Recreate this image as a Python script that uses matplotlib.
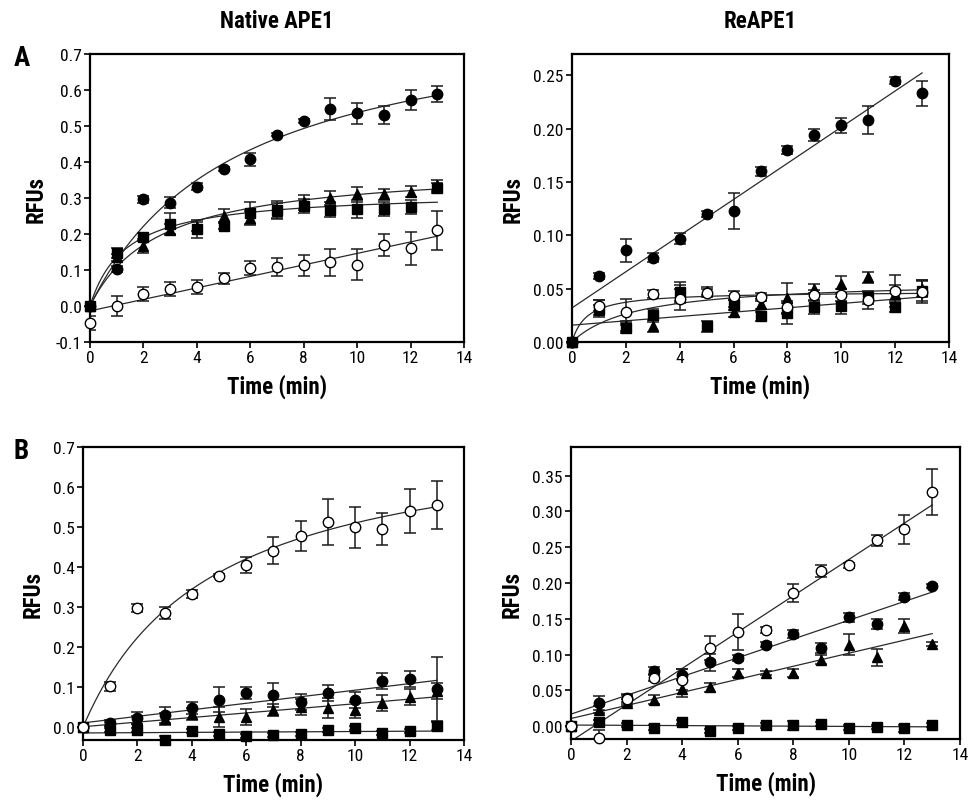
import numpy as np
import matplotlib
matplotlib.use('Agg')
import matplotlib.pyplot as plt
from matplotlib import font_manager
from matplotlib.ticker import FormatStrFormatter

# the figure uses a narrow Helvetica-like face; take one if it is installed
installed = {f.name for f in font_manager.fontManager.ttflist}
narrow = None
for cand in ['Liberation Sans Narrow', 'Nimbus Sans Narrow', 'Arial Narrow', 'Roboto Condensed']:
    if cand in installed:
        narrow = cand
        break
plt.rcParams['font.family'] = [narrow or 'Liberation Sans', 'DejaVu Sans']
tick_size = 12.5 if narrow else 11
label_size = 16.5 if narrow else 14

minutes = list(range(14))

# A - Native APE1
a_nat_fc = [0.0, 0.102, 0.296, 0.287, 0.331, 0.380, 0.407, 0.476, 0.514, 0.548, 0.535, 0.530, 0.573, 0.590]
a_nat_fc_err = [0.004, 0.008, 0.010, 0.015, 0.010, 0.005, 0.018, 0.005, 0.005, 0.030, 0.030, 0.025, 0.028, 0.022]
a_nat_tri = [0.0, 0.135, 0.166, 0.212, 0.220, 0.250, 0.245, 0.265, 0.288, 0.300, 0.310, 0.310, 0.318, 0.335]
a_nat_tri_err = [0.004, 0.010, 0.020, 0.015, 0.012, 0.020, 0.020, 0.020, 0.020, 0.020, 0.020, 0.015, 0.015, 0.015]
a_nat_sq = [0.0, 0.147, 0.192, 0.229, 0.215, 0.223, 0.259, 0.268, 0.277, 0.268, 0.270, 0.270, 0.275, 0.328]
a_nat_sq_err = [0.005, 0.015, 0.012, 0.030, 0.025, 0.010, 0.030, 0.025, 0.020, 0.020, 0.025, 0.020, 0.020, 0.015]
a_nat_oc = [-0.048, 0.0, 0.034, 0.047, 0.052, 0.077, 0.105, 0.108, 0.113, 0.121, 0.114, 0.170, 0.160, 0.210]
a_nat_oc_err = [0.020, 0.028, 0.020, 0.020, 0.020, 0.015, 0.020, 0.025, 0.030, 0.037, 0.043, 0.030, 0.045, 0.055]

# A - ReAPE1
a_re_fc = [0.0, 0.062, 0.086, 0.079, 0.097, 0.120, 0.1225, 0.160, 0.180, 0.194, 0.203, 0.208, 0.245, 0.233]
a_re_fc_err = [0.002, 0.003, 0.011, 0.004, 0.005, 0.003, 0.017, 0.004, 0.004, 0.006, 0.007, 0.013, 0.003, 0.012]
a_re_tri = [0.0, 0.030, 0.015, 0.015, 0.045, 0.048, 0.028, 0.0356, 0.041, 0.050, 0.054, 0.0606, 0.045, 0.050]
a_re_tri_err = [0.002, 0.005, 0.005, 0.006, 0.008, 0.004, 0.005, 0.005, 0.014, 0.004, 0.008, 0.005, 0.008, 0.008]
a_re_sq = [0.0, 0.031, 0.013, 0.025, 0.047, 0.0147, 0.0347, 0.024, 0.027, 0.0325, 0.034, 0.042, 0.033, 0.048]
a_re_sq_err = [0.002, 0.008, 0.005, 0.006, 0.009, 0.005, 0.005, 0.004, 0.010, 0.006, 0.008, 0.006, 0.005, 0.010]
a_re_oc = [0.0, 0.034, 0.028, 0.045, 0.040, 0.046, 0.0434, 0.042, 0.0325, 0.044, 0.044, 0.039, 0.048, 0.047]
a_re_oc_err = [0.002, 0.005, 0.012, 0.004, 0.010, 0.004, 0.004, 0.004, 0.006, 0.005, 0.006, 0.008, 0.015, 0.010]

# B - Native APE1
b_nat_oc = [0.0, 0.102, 0.297, 0.285, 0.332, 0.378, 0.405, 0.441, 0.478, 0.513, 0.499, 0.495, 0.540, 0.555]
b_nat_oc_err = [0.004, 0.012, 0.010, 0.015, 0.010, 0.004, 0.020, 0.033, 0.037, 0.058, 0.052, 0.040, 0.055, 0.060]
b_nat_fc = [0.0, 0.010, 0.023, 0.030, 0.047, 0.069, 0.086, 0.080, 0.064, 0.086, 0.069, 0.115, 0.120, 0.095]
b_nat_fc_err = [0.003, 0.008, 0.015, 0.020, 0.015, 0.032, 0.015, 0.030, 0.020, 0.020, 0.020, 0.020, 0.020, 0.080]
b_nat_tri = [0.0, 0.008, 0.018, 0.020, 0.0325, 0.026, 0.026, 0.043, 0.050, 0.048, 0.043, 0.060, 0.075, 0.090]
b_nat_tri_err = [0.003, 0.005, 0.010, 0.015, 0.015, 0.025, 0.020, 0.015, 0.020, 0.025, 0.020, 0.020, 0.020, 0.020]
b_nat_sq = [0.0, -0.0075, -0.008, -0.032, -0.010, -0.0175, -0.023, -0.020, -0.0175, -0.008, -0.003, -0.015, -0.010, 0.003]
b_nat_sq_err = [0.003, 0.005, 0.005, 0.010, 0.005, 0.005, 0.005, 0.005, 0.005, 0.005, 0.005, 0.005, 0.005, 0.010]

# B - ReAPE1
b_re_oc = [0.0, -0.017, 0.038, 0.067, 0.065, 0.109, 0.131, 0.134, 0.186, 0.217, 0.2245, 0.2595, 0.275, 0.327]
b_re_oc_err = [0.003, 0.012, 0.007, 0.004, 0.015, 0.017, 0.025, 0.004, 0.013, 0.008, 0.004, 0.008, 0.020, 0.032]
b_re_fc = [0.0, 0.032, 0.039, 0.0775, 0.072, 0.089, 0.095, 0.114, 0.129, 0.109, 0.152, 0.143, 0.181, 0.196]
b_re_fc_err = [0.002, 0.010, 0.005, 0.005, 0.008, 0.012, 0.004, 0.004, 0.006, 0.007, 0.006, 0.007, 0.005, 0.003]
b_re_tri = [0.0, 0.023, 0.033, 0.037, 0.052, 0.054, 0.074, 0.074, 0.074, 0.093, 0.114, 0.096, 0.140, 0.115]
b_re_tri_err = [0.002, 0.005, 0.005, 0.006, 0.012, 0.006, 0.006, 0.003, 0.006, 0.006, 0.015, 0.012, 0.010, 0.003]
b_re_sq = [0.0, 0.006, 0.002, -0.002, 0.006, -0.0066, -0.003, 0.001, 0.001, 0.003, -0.002, -0.001, -0.003, 0.002]
b_re_sq_err = [0.002, 0.003, 0.003, 0.003, 0.003, 0.003, 0.003, 0.003, 0.006, 0.003, 0.003, 0.003, 0.005, 0.003]

# hyperbolic fits (Vmax, Km); None -> straight line fit
fit_a_nat_fc = (0.834, 5.53)
fit_a_nat_tri = (0.39, 2.6)
fit_a_nat_sq = (0.318, 1.34)
fit_a_re_oc = (0.0475, 0.55)
fit_a_re_tri = (0.058, 2.4)
fit_b_nat_oc = (0.75, 4.7)

W, H = 970, 803
fig = plt.figure(figsize=(W / 100, H / 100), dpi=100)


def box(left, top, right, bottom):
    return fig.add_axes([left / W, 1 - bottom / H, (right - left) / W, (bottom - top) / H])


def draw_series(ax, y, err, marker, filled, fit=None):
    t = np.array(minutes, dtype=float)
    y = np.array(y)
    tt = np.linspace(0, 13, 300)
    if fit is None:
        k, b = np.polyfit(t, y, 1)
        curve = k * tt + b
    else:
        vmax, km = fit
        curve = vmax * tt / (km + tt)
    ax.plot(tt, curve, color='#2a2a2a', lw=0.9, zorder=2)
    ax.errorbar(t, y, yerr=err, fmt='none', ecolor='#1a1a1a', elinewidth=1.1,
                capsize=4.5, capthick=1.1, zorder=3)
    ms = 7 if marker == 's' else 7.5
    ax.plot(t, y, linestyle='none', marker=marker, ms=ms,
            mfc='black' if filled else 'white', mec='black', mew=1.0,
            zorder=4, clip_on=False)


def style(ax, ylim, ystep, fmt):
    ax.set_xlim(0, 14)
    ax.set_ylim(*ylim)
    ax.set_xticks(range(0, 15, 2))
    start = np.ceil(ylim[0] / ystep - 1e-6) * ystep
    ticks = np.round(np.arange(start, ylim[1] + 1e-9, ystep), 3) + 0.0
    ticks[np.abs(ticks) < 1e-9] = 0.0
    ax.set_yticks(ticks)
    ax.yaxis.set_major_formatter(FormatStrFormatter(fmt))
    for s in ax.spines.values():
        s.set_linewidth(1.6)
    ax.tick_params(direction='out', length=4, width=1.2, labelsize=tick_size, pad=2)
    ax.set_xlabel('Time (min)', fontsize=label_size, fontweight='bold', labelpad=6)
    ax.set_ylabel('RFUs', fontsize=label_size, fontweight='bold', labelpad=6)


ax1 = box(90, 55, 464, 343)
draw_series(ax1, a_nat_oc, a_nat_oc_err, 'o', False)
draw_series(ax1, a_nat_sq, a_nat_sq_err, 's', True, fit_a_nat_sq)
draw_series(ax1, a_nat_tri, a_nat_tri_err, '^', True, fit_a_nat_tri)
draw_series(ax1, a_nat_fc, a_nat_fc_err, 'o', True, fit_a_nat_fc)
style(ax1, (-0.1, 0.7), 0.1, '%.1f')

ax2 = box(572, 55, 949, 343)
draw_series(ax2, a_re_sq, a_re_sq_err, 's', True)
draw_series(ax2, a_re_tri, a_re_tri_err, '^', True, fit_a_re_tri)
draw_series(ax2, a_re_oc, a_re_oc_err, 'o', False, fit_a_re_oc)
draw_series(ax2, a_re_fc, a_re_fc_err, 'o', True)
style(ax2, (0.0, 0.27), 0.05, '%.2f')

ax3 = box(83, 448, 464, 741)
draw_series(ax3, b_nat_sq, b_nat_sq_err, 's', True)
draw_series(ax3, b_nat_tri, b_nat_tri_err, '^', True)
draw_series(ax3, b_nat_fc, b_nat_fc_err, 'o', True)
draw_series(ax3, b_nat_oc, b_nat_oc_err, 'o', False, fit_b_nat_oc)
style(ax3, (-0.032, 0.7), 0.1, '%.1f')

ax4 = box(571, 448, 960, 740)
draw_series(ax4, b_re_sq, b_re_sq_err, 's', True)
draw_series(ax4, b_re_tri, b_re_tri_err, '^', True)
draw_series(ax4, b_re_fc, b_re_fc_err, 'o', True)
draw_series(ax4, b_re_oc, b_re_oc_err, 'o', False)
style(ax4, (-0.018, 0.39), 0.05, '%.2f')

fig.text(277 / W, 1 - 22 / H, 'Native APE1', ha='center', va='center', fontsize=label_size, fontweight='bold')
fig.text(760 / W, 1 - 22 / H, 'ReAPE1', ha='center', va='center', fontsize=label_size, fontweight='bold')
fig.text(14 / W, 1 - 58 / H, 'A', ha='left', va='center', fontsize=label_size + 3, fontweight='bold')
fig.text(14 / W, 1 - 452 / H, 'B', ha='left', va='center', fontsize=label_size + 3, fontweight='bold')

fig.savefig('out.png', dpi=100)
